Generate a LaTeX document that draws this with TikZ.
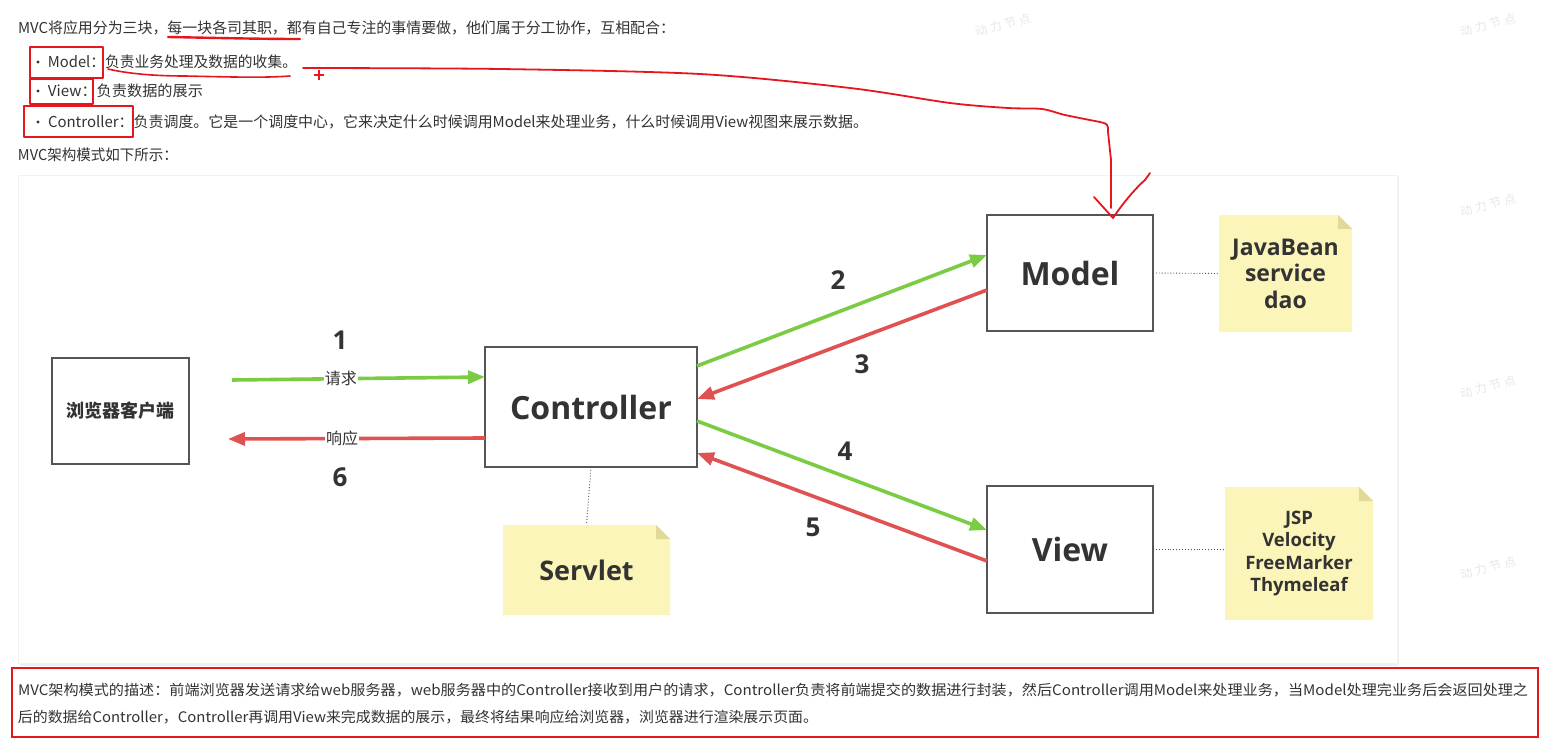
\documentclass[tikz,border=0pt]{standalone}
\usepackage{fontspec}
\usepackage{graphicx}
\setmainfont{Noto Sans CJK SC}
\newfontfamily\osans{Open Sans}
\usetikzlibrary{arrows.meta,calc}
\definecolor{txtc}{RGB}{51,51,51}
\definecolor{mgreen}{RGB}{122,204,68}
\definecolor{mred}{RGB}{224,82,82}
\definecolor{annred}{RGB}{230,22,30}
\definecolor{boxgray}{RGB}{85,85,85}
\definecolor{notey}{RGB}{252,245,186}
\definecolor{notefold}{RGB}{226,216,152}
\newcommand\fitw[2]{\resizebox{#1pt}{\height}{#2}}
\newcommand\fsz[2]{\fontsize{#1}{#2}\selectfont}
\newcommand\wmtext{动\hspace{3pt}力\hspace{3pt}节\hspace{3pt}点}
\begin{document}
\begin{tikzpicture}[x=1pt,y=-1pt,
  txt/.style={inner sep=0pt,outer sep=0pt,anchor=base west,text=txtc,font=\fsz{15}{18}},
  ann/.style={draw=annred,line width=2pt,line cap=round,line join=round},
  wm/.style={text=black!9,rotate=15,font=\fsz{12}{14}},
  box/.style={draw=boxgray,line width=1.4pt,fill=white,inner sep=0pt,outer sep=0pt,text=txtc},
  note/.style={fill=white,inner sep=0pt,outer sep=0pt,text=txtc,align=center,
    path picture={
      \fill[notey] (path picture bounding box.south west) -- (path picture bounding box.north west)
        -- ([xshift=-14pt]path picture bounding box.north east) -- ([yshift=-14pt]path picture bounding box.north east)
        -- (path picture bounding box.south east) -- cycle;
      \fill[notefold] ([xshift=-14pt]path picture bounding box.north east) -- ([yshift=-14pt]path picture bounding box.north east)
        -- ([xshift=-14pt,yshift=-14pt]path picture bounding box.north east) -- cycle;}},
  garrow/.style={draw=mgreen,line width=3.6pt,-{Triangle[length=17pt,width=13pt]}},
  rarrow/.style={draw=mred,line width=3.6pt,-{Triangle[length=17pt,width=13pt]}},
  lbl/.style={fill=white,inner sep=1pt,text=txtc,font=\fsz{16}{18}},
  num/.style={text=txtc,font=\osans\bfseries\fsz{26}{28}},
  dotc/.style={draw=black!70,dotted,line width=0.9pt}
]
\useasboundingbox (0,0) rectangle (1550,746);
\fill[white] (0,0) rectangle (1550,746);

% watermarks
\node[wm] (w1) at (1003,25) {\wmtext};
\node[wm] (w2) at (1488,25) {\wmtext};
\node[wm] (w3) at (1488,205) {\wmtext};
\node[wm] (w4) at (1488,387) {\wmtext};
\node[wm] (w5) at (1488,568) {\wmtext};

% top text
\node[txt] (t1) at (18,33.5) {\fitw{657}{MVC将应用分为三块，每一块各司其职，都有自己专注的事情要做，他们属于分工协作，互相配合：}};
\fill[txtc] (38,62) circle (1.6pt);
\node[txt] (t2) at (48,67.5) {\fitw{249}{Model：负责业务处理及数据的收集。}};
\fill[txtc] (38,91) circle (1.6pt);
\node[txt] (t3) at (48,96.5) {\fitw{155}{View：负责数据的展示}};
\fill[txtc] (38,122) circle (1.6pt);
\node[txt] (t4) at (48,127.5) {\fitw{820}{Controller：负责调度。它是一个调度中心，它来决定什么时候调用Model来处理业务，什么时候调用View视图来展示数据。}};
\node[txt] (t5) at (18,160.5) {\fitw{160}{MVC架构模式如下所示：}};

% diagram panel
\fill[black!6] (20,177) rectangle (1399,666);
\fill[white] (18,175) rectangle (1397,663);
\draw[black!5,line width=0.6pt] (18,175) rectangle (1397,663);

% boxes
\node[box,minimum width=137pt,minimum height=106pt,font=\bfseries\fsz{18}{20}] (browser) at (120.5,411) {浏览器客户端};
\node[box,minimum width=212pt,minimum height=120pt,font=\osans\bfseries\fsz{32}{34}] (ctrl) at (591,407) {Controller};
\node[box,minimum width=166pt,minimum height=116pt,font=\osans\bfseries\fsz{32}{34}] (model) at (1070,273) {Model};
\node[box,minimum width=166pt,minimum height=127pt,font=\osans\bfseries\fsz{32}{34}] (view) at (1070,549.5) {View};

% notes
\node[note,minimum width=133pt,minimum height=117pt,font=\osans\bfseries\fsz{23}{26.5}] (javanote) at (1285.5,273.5) {JavaBean\\service\\dao};
\node[note,minimum width=148pt,minimum height=133pt,font=\osans\bfseries\fsz{18.5}{22.5}] (jspnote) at (1299,553.5) {JSP\\Velocity\\FreeMarker\\Thymeleaf};
\node[note,minimum width=167pt,minimum height=90pt,font=\osans\bfseries\fsz{27}{30}] (servlet) at (586.5,570) {Servlet};

% dotted connectors
\draw[dotc] (ctrl.south) -- (servlet.north);
\draw[dotc] (model.east) -- (javanote.west);
\draw[dotc] (view.east) -- (view.east -| jspnote.west);

% arrows
\coordinate (reqs) at (232,380);
\coordinate (resp) at (228,439);
\draw[garrow] (reqs) -- ([yshift=30pt]ctrl.west) node[lbl,pos=0.43] (lreq) {请求};
\draw[rarrow] ([yshift=-31pt]ctrl.west) -- (resp) node[lbl,pos=0.556] (lresp) {响应};
\draw[garrow] ([yshift=-19pt]ctrl.north east) -- ([yshift=-40pt]model.north west);
\draw[rarrow] ([yshift=-75pt]model.north west) -- ([yshift=-52pt]ctrl.north east);
\draw[garrow] ([yshift=-74pt]ctrl.north east) -- ([yshift=-44pt]view.north west);
\draw[rarrow] ([yshift=-75pt]view.north west) -- ([yshift=-106pt]ctrl.north east);

% step numbers
\node[num] (n1) at (340,340) {1};
\node[num] (n2) at (838,280) {2};
\node[num] (n3) at (862,364) {3};
\node[num] (n4) at (845,451) {4};
\node[num] (n5) at (813,527) {5};
\node[num] (n6) at (340,477) {6};

% red annotations (on top of everything)
\draw[ann,line width=2.4pt] (168,37) .. controls (220,38) and (260,39) .. (300,39);
\draw[ann] (30,47) rectangle (103,78);
\draw[ann] (30,79) rectangle (93,104);
\draw[ann] (24,106) rectangle (133,137);
\draw[ann,line width=1.6pt] (108,69) .. controls (125,73) and (150,76) .. (185,76) .. controls (230,77) and (265,78) .. (290,76);
\draw[ann,line width=2.6pt,line cap=butt] (314,75) -- (324,75) (319,70) -- (319,80);
\draw[ann,line width=1.8pt] plot[smooth,tension=0.5] coordinates {(303,68) (500,69) (700,74) (850,88) (950,103) (1008,108) (1042,109) (1065,115) (1100,122)}
  .. controls (1108,124) .. (1108,132) -- (1111,160) -- (1111,208);
\draw[ann,line width=1.8pt] (1094,197) -- (1113,218) .. controls (1125,200) and (1138,186) .. (1145,180) -- (1150,173);

% bottom description
\draw[annred,line width=2pt] (12,668) rectangle (1538,737);
\node[txt,font=\fsz{14.5}{17}] (b1) at (18,695.5) {\fitw{1510}{MVC架构模式的描述：前端浏览器发送请求给web服务器，web服务器中的Controller接收到用户的请求，Controller负责将前端提交的数据进行封装，然后Controller调用Model来处理业务，当Model处理完业务后会返回处理之}};
\node[txt,font=\fsz{14.5}{17}] (b2) at (18,722.5) {\fitw{800}{后的数据给Controller，Controller再调用View来完成数据的展示，最终将结果响应给浏览器，浏览器进行渲染展示页面。}};
\end{tikzpicture}
\end{document}
